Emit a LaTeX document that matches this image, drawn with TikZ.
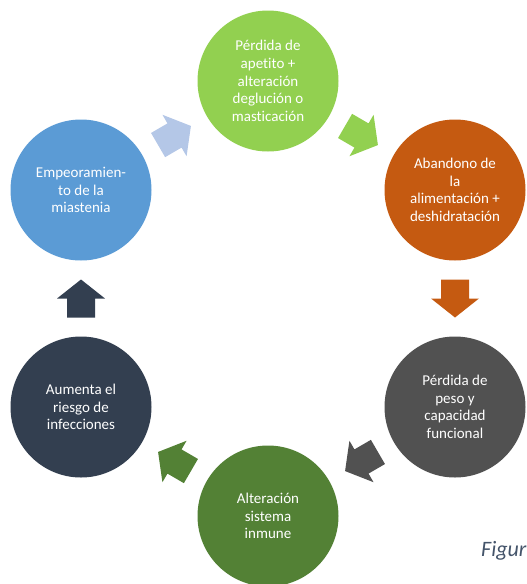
\documentclass[tikz,border=0pt]{standalone}
\usepackage{fontspec}
\setmainfont{Carlito}[Ligatures={NoCommon}]
\usetikzlibrary{calc}
\definecolor{cGreenL}{HTML}{92D050}
\definecolor{cOrange}{HTML}{C55A11}
\definecolor{cGray}{HTML}{515151}
\definecolor{cGreenD}{HTML}{538135}
\definecolor{cNavy}{HTML}{333F50}
\definecolor{cBlue}{HTML}{5B9BD5}
\definecolor{cBlueL}{HTML}{B4C7E7}
\definecolor{cCaption}{HTML}{44546A}
\tikzset{
  stage/.style={circle, minimum size=141pt, inner sep=0pt, text=white,
    align=center, font=\fontsize{15}{17.6}\selectfont},
  pics/cyclearrow/.style={code={
    \fill (-19pt,-14pt) -- (0pt,-14pt) -- (0pt,-24pt) -- (19pt,0pt) -- (0pt,24pt) -- (0pt,14pt) -- (-19pt,14pt) -- cycle;}}
}
\begin{document}
\begin{tikzpicture}[x=1pt,y=1pt]
\useasboundingbox (0,0) rectangle (527,-584);
\node[stage, fill=cGreenL] (n1) at (268,-81) {Pérdida de\\apetito +\\alteración\\deglución o\\masticación};
\node[stage, fill=cOrange] (n2) at (455,-190) {Abandono de\\la\\alimentación +\\deshidratación};
\node[stage, fill=cGray] (n3) at (455,-407) {Pérdida de\\peso y\\capacidad\\funcional};
\node[stage, fill=cGreenD] (n4) at (268,-516) {Alteración\\sistema\\inmune};
\node[stage, fill=cNavy] (n5) at (81,-407) {Aumenta el\\riesgo de\\infecciones};
\node[stage, fill=cBlue] (n6) at (81,-190) {Empeoramien-\\to de la\\miastenia};
\pic[fill=cGreenL, rotate=-30.2] at ($(n1)!0.5!(n2)$) {cyclearrow};
\pic[fill=cOrange, rotate=-90] at ($(n2)!0.5!(n3)$) {cyclearrow};
\pic[fill=cGray, rotate=-149.8] at ($(n3)!0.5!(n4)$) {cyclearrow};
\pic[fill=cGreenD, rotate=149.8] at ($(n4)!0.5!(n5)$) {cyclearrow};
\pic[fill=cNavy, rotate=90] at ($(n5)!0.5!(n6)$) {cyclearrow};
\pic[fill=cBlueL, rotate=30.2] at ($(n6)!0.5!(n1)$) {cyclearrow};
\node[anchor=base west, inner sep=0pt, text=cCaption, font=\fontsize{22}{26}\selectfont\itshape] (cap) at (481,-556) {Figur};
\end{tikzpicture}
\end{document}
